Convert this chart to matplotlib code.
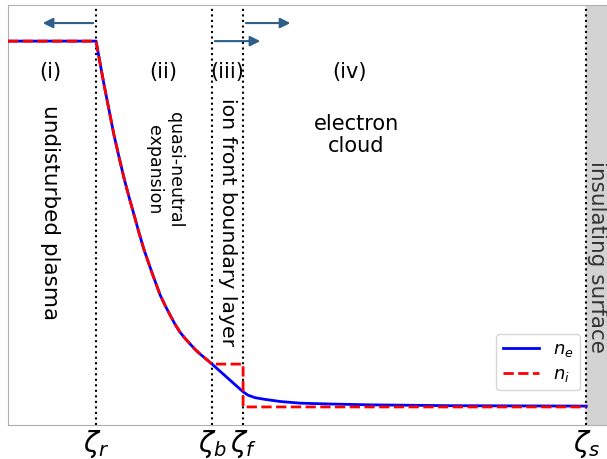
import matplotlib
matplotlib.use("Agg")
import matplotlib.pyplot as plt

# positions of the region boundaries
zeta_names = [r"$\zeta_r$", r"$\zeta_b$", r"$\zeta_f$", r"$\zeta_s$"]
zeta_pos = [0.882, 2.044, 2.355, 5.792]

# shared quasi-neutral part (regions i and ii)
x_qn = [0.0, 0.882, 0.922, 0.962, 1.012, 1.062, 1.112, 1.162, 1.212, 1.263, 1.313,
        1.363, 1.443, 1.523, 1.573, 1.623, 1.673, 1.723, 1.774, 1.824, 1.874, 1.924,
        1.984, 2.044]
n_qn = [0.914, 0.914, 0.862, 0.810, 0.750, 0.690, 0.638, 0.588, 0.543, 0.500, 0.457,
        0.417, 0.362, 0.310, 0.285, 0.262, 0.240, 0.221, 0.206, 0.193, 0.180, 0.169,
        0.157, 0.145]

# electron density beyond zeta_b
x_ne_out = [2.355, 2.405, 2.475, 2.575, 2.725, 2.926, 3.226, 3.627, 4.429, 5.792]
n_e_out = [0.079, 0.071, 0.065, 0.061, 0.056, 0.052, 0.050, 0.048, 0.046, 0.045]

# ion density beyond zeta_b
x_ni_out = [2.355, 2.355, 5.792]
n_i_out = [0.145, 0.043, 0.043]

region_labels = ["(i)", "(ii)", "(iii)", "(iv)"]

fig = plt.figure(figsize=(6.07, 4.59), dpi=100)
ax = fig.add_axes([8 / 607, 34 / 459, 1 - 8 / 607, 420 / 459])

ax.axvspan(zeta_pos[3], 6.2, color="#d3d3d3", zorder=0)
for z in zeta_pos:
    ax.axvline(z, color="black", ls=":", lw=1.5, zorder=1)

ax.plot(x_qn + x_ne_out, n_qn + n_e_out, color="blue", lw=2, label="$n_e$", zorder=3)
ax.plot(x_qn + x_ni_out, n_qn + n_i_out, color="red", ls="--", lw=2, label="$n_i$", zorder=4)

arrow_col = "#2e5f8a"
for x0, x1, y in [(0.882, 0.32, 0.957), (2.355, 2.856, 0.957), (2.044, 2.555, 0.914)]:
    ax.annotate("", xy=(x1, y), xytext=(x0, y),
                arrowprops=dict(arrowstyle="-|>", color=arrow_col, lw=1.5, mutation_scale=15))

fs = 15
for lab, x in zip(region_labels, [0.42, 1.553, 2.194, 3.417]):
    ax.text(x, 0.840, lab, fontsize=fs, ha="center", va="center")

ax.text(0.42, 0.505, "undisturbed plasma", fontsize=15.5, rotation=-90, ha="center", va="center")
ax.text(1.568, 0.607, "quasi-neutral\nexpansion", fontsize=12.5, rotation=-90,
        ha="center", va="center", multialignment="center", linespacing=1.15)
ax.text(2.194, 0.483, "ion front boundary layer", fontsize=14.7, rotation=-90,
        ha="center", va="center")
ax.text(3.487, 0.690, "electron\ncloud", fontsize=fs, ha="center", va="center",
        multialignment="center", linespacing=1.1)
ax.text(5.895, 0.40, "insulating surface", fontsize=15.5, rotation=-90, ha="center",
        va="center", color="#333333")

ax.set_xlim(0, 6.0)
ax.set_ylim(0, 1)
ax.set_xticks(zeta_pos)
ax.set_xticklabels(zeta_names, fontsize=20)
ax.set_yticks([])
ax.tick_params(axis="x", length=0, pad=2)
for s in ax.spines.values():
    s.set_color("#b0b0b0")

ax.legend(loc="lower right", bbox_to_anchor=(0.955, 0.083), borderaxespad=0, fontsize=13,
          handlelength=2.0, labelspacing=0.3, borderpad=0.35)

fig.savefig("out.png", dpi=100)
